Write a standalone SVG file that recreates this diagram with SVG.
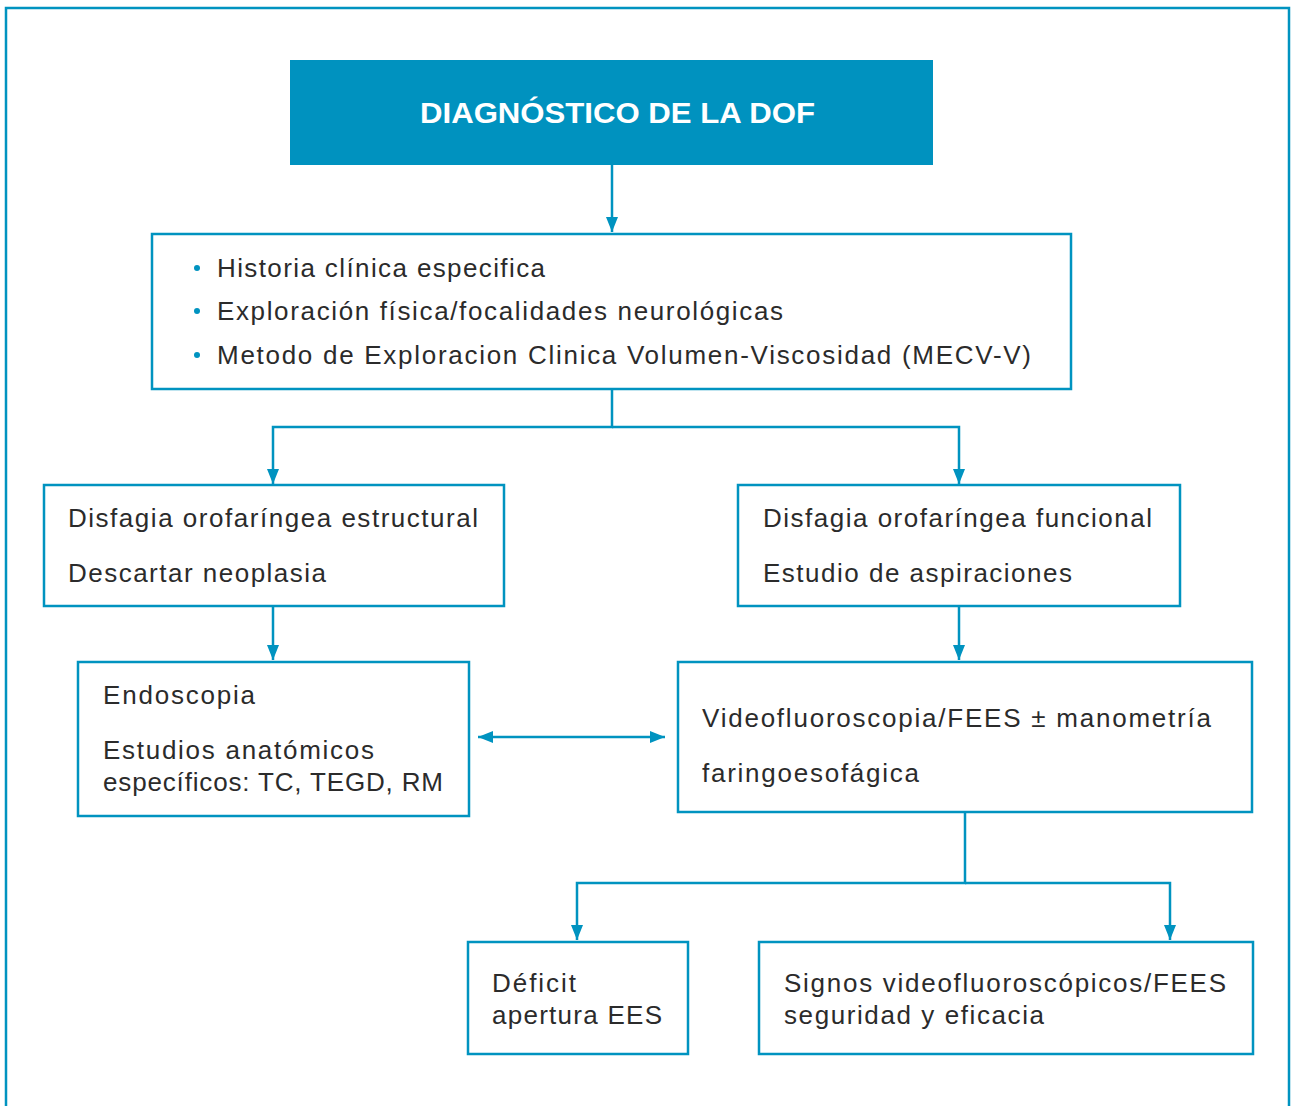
<svg xmlns="http://www.w3.org/2000/svg" width="1291" height="1106" viewBox="0 0 1291 1106">
<defs>
<marker id="ah" viewBox="0 0 15 12" refX="15" refY="6" markerWidth="15" markerHeight="12" markerUnits="userSpaceOnUse" orient="auto-start-reverse">
<path d="M0,0 L15,6 L0,12 Z" fill="#0093C0"/>
</marker>
<style>
.box{fill:#fff;stroke:#0093C0;stroke-width:2.5}
.t{font-family:"Liberation Sans",Arial,sans-serif;font-size:26px;fill:#2b2b2b;}
.conn{fill:none;stroke:#0093C0;stroke-width:2.5}
.bul{fill:#0093C0}
</style>
</defs>
<rect width="1291" height="1106" fill="#fff"/>
<rect x="6" y="8" width="1283" height="1110" fill="none" stroke="#0093C0" stroke-width="2.5"/>
<g id="connectors">
<path class="conn" d="M612,165 V232" marker-end="url(#ah)"/>
<path class="conn" d="M612,389 V427 H273 V484" marker-end="url(#ah)"/>
<path class="conn" d="M612,427 H959 V484" marker-end="url(#ah)"/>
<path class="conn" d="M273,606 V660" marker-end="url(#ah)"/>
<path class="conn" d="M959,606 V660" marker-end="url(#ah)"/>
<path class="conn" d="M478,737 H665" marker-start="url(#ah)" marker-end="url(#ah)"/>
<path class="conn" d="M965,812 V883 H577 V940" marker-end="url(#ah)"/>
<path class="conn" d="M965,883 H1170 V940" marker-end="url(#ah)"/>
</g>
<g id="n-title">
<rect x="290" y="60" width="643" height="105" fill="#0092BF"/>
<text x="420" y="123" textLength="395" lengthAdjust="spacingAndGlyphs" style="font-family:'Liberation Sans',Arial,sans-serif;font-size:29px;font-weight:bold;fill:#fff">DIAGNÓSTICO DE LA DOF</text>
</g>
<g id="n-historia">
<rect class="box" x="152" y="234" width="919" height="155"/>
<circle class="bul" cx="197" cy="268" r="3"/>
<circle class="bul" cx="197" cy="311" r="3"/>
<circle class="bul" cx="197" cy="355" r="3"/>
<text class="t" x="217" y="277" textLength="328">Historia clínica especifica</text>
<text class="t" x="217" y="320" textLength="566">Exploración física/focalidades neurológicas</text>
<text class="t" x="217" y="364" textLength="814">Metodo de Exploracion Clinica Volumen-Viscosidad (MECV-V)</text>
</g>
<g id="n-estructural">
<rect class="box" x="44" y="485" width="460" height="121"/>
<text class="t" x="68" y="527" textLength="410">Disfagia orofaríngea estructural</text>
<text class="t" x="68" y="582" textLength="258">Descartar neoplasia</text>
</g>
<g id="n-funcional">
<rect class="box" x="738" y="485" width="442" height="121"/>
<text class="t" x="763" y="527" textLength="389">Disfagia orofaríngea funcional</text>
<text class="t" x="763" y="582" textLength="309">Estudio de aspiraciones</text>
</g>
<g id="n-endoscopia">
<rect class="box" x="78" y="662" width="391" height="154"/>
<text class="t" x="103" y="704" textLength="152">Endoscopia</text>
<text class="t" x="103" y="759" textLength="271">Estudios anatómicos</text>
<text class="t" x="103" y="791" textLength="340">específicos: TC, TEGD, RM</text>
</g>
<g id="n-video">
<rect class="box" x="678" y="662" width="574" height="150"/>
<text class="t" x="702" y="727" textLength="509">Videofluoroscopia/FEES ± manometría</text>
<text class="t" x="702" y="782" textLength="217">faringoesofágica</text>
</g>
<g id="n-deficit">
<rect class="box" x="468" y="942" width="220" height="112"/>
<text class="t" x="492" y="992" textLength="84">Déficit</text>
<text class="t" x="492" y="1024" textLength="170">apertura EES</text>
</g>
<g id="n-signos">
<rect class="box" x="759" y="942" width="494" height="112"/>
<text class="t" x="784" y="992" textLength="442">Signos videofluoroscópicos/FEES</text>
<text class="t" x="784" y="1024" textLength="260">seguridad y eficacia</text>
</g>
</svg>
